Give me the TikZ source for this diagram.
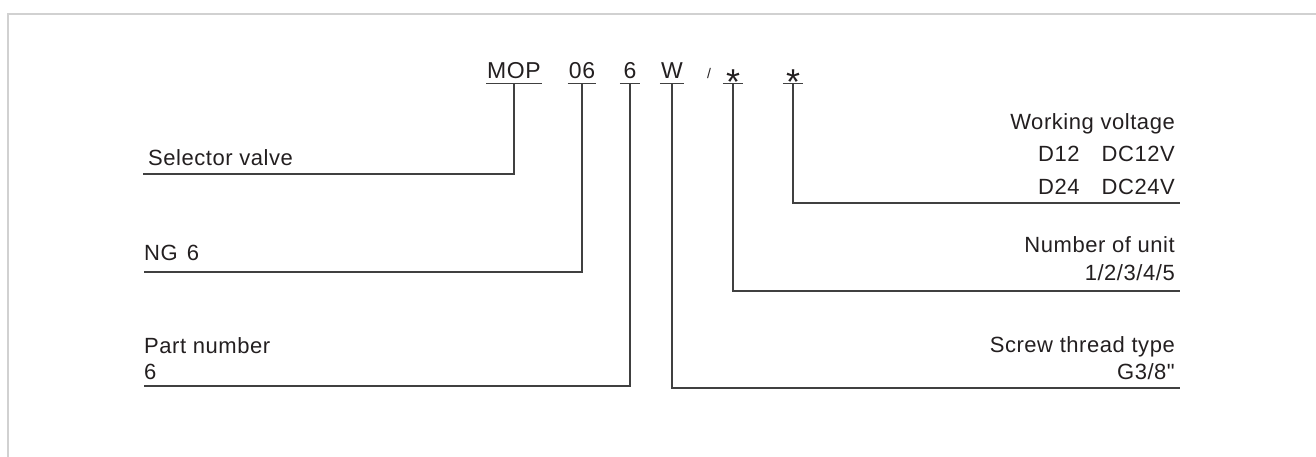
\documentclass[tikz,border=0pt]{standalone}
\usepackage{fontspec}
\newfontfamily\labelfont{Liberation Sans}[LetterSpace=2.5]
\definecolor{ink}{HTML}{231F20}
\newcommand\codestar{\raisebox{-15.5pt}[0pt][0pt]{\fontsize{36}{36}\selectfont *}}

\begin{document}
\begin{tikzpicture}[x=1pt, y=-1pt,
      every node/.style = {inner sep=0pt, text=ink,
        font=\labelfont\fontsize{22}{24}\selectfont},
      code/.style = {anchor=base, inner xsep=1pt, inner ysep=4pt,
        minimum width=20pt, font=\labelfont\fontsize{23}{26}\selectfont},
      lead/.style = {draw=black!75, line width=1.1pt}]
  \useasboundingbox (0,0) rectangle (1316,457);
  \draw[black!18, line width=2pt] (8,457) -- (8,14) -- (1316,14);

  % type code
  \node[code] (mop)    at (514,79) {MOP};
  \node[code] (ng)     at (582,79) {06};
  \node[code] (part)   at (630,79) {6};
  \node[code] (thread) at (672,79) {W};
  \node[code, minimum width=0pt, font=\labelfont\fontsize{14}{14}\selectfont] (slash) at (709,79) {/};
  \node[code] (unit)   at (733,79) {\codestar};
  \node[code] (volt)   at (793,79) {\codestar};
  \foreach \n in {mop,ng,part,thread,unit,volt}
    \draw[lead] (\n.south west) -- (\n.south east);

  % left side
  \node[anchor=base west] (selector) at (148,166) {Selector valve};
  \node[anchor=base west] (size)     at (144,260) {NG\hspace{9pt}6};
  \node[anchor=base west] (partno)   at (144,353) {Part number};
  \node[anchor=base west] (partval)  at (144,379) {6};
  \coordinate (selectorend) at (143,174);
  \coordinate (sizeend)     at (144,272);
  \coordinate (partend)     at (144,386);
  \draw[lead] (mop.south)  |- (selectorend);
  \draw[lead] (ng.south)   |- (sizeend);
  \draw[lead] (part.south) |- (partend);

  % right side
  \node[anchor=base east] (voltage) at (1175,130) {Working voltage};
  \node[anchor=base east] (d12)     at (1175,162) {D12\hspace{22pt}DC12V};
  \node[anchor=base east] (d24)     at (1175,194) {D24\hspace{22pt}DC24V};
  \node[anchor=base east] (units)   at (1175,252) {Number of unit};
  \node[anchor=base east] (unitval) at (1175,280) {1/2/3/4/5};
  \node[anchor=base east] (screw)   at (1175,352) {Screw thread type};
  \node[anchor=base east] (screwval) at (1175,379) {G3/8"};
  \coordinate (voltend)   at (1180,203);
  \coordinate (unitend)   at (1180,291);
  \coordinate (threadend) at (1180,388);
  \draw[lead] (volt.south)   |- (voltend);
  \draw[lead] (unit.south)   |- (unitend);
  \draw[lead] (thread.south) |- (threadend);
\end{tikzpicture}
\end{document}
